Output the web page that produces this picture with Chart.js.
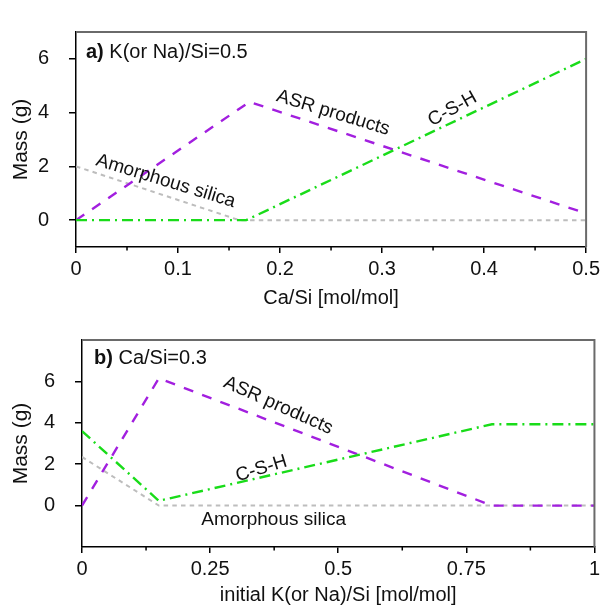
<!DOCTYPE html>
<html>
<head>
<meta charset="utf-8">
<script src="https://cdn.jsdelivr.net/npm/chart.js@4.4.1/dist/chart.umd.min.js"></script>
<style>
  html, body { margin: 0; padding: 0; background: #fff; }
  body { width: 604px; height: 608px; position: relative; overflow: hidden; }
  .box { position: absolute; left: 0; width: 604px; }
  #boxA { top: 0; height: 312px; }
  #boxB { top: 308px; height: 300px; }
</style>
</head>
<body>
<div class="box" id="boxA"><canvas id="chartA"></canvas></div>
<div class="box" id="boxB"><canvas id="chartB"></canvas></div>
<script>
// ---------- Panel a) K(or Na)/Si = 0.5 ----------
const caSiASR   = [0, 0.17, 0.5];
const massASR_a = [0, 4.4, 0.25];
const caSiCSH   = [0, 0.167, 0.5];
const massCSH_a = [0, 0, 6];
const caSiAm    = [0, 0.16, 0.5];
const massAm_a  = [2, 0, 0];
const xTicksA      = [0, 0.1, 0.2, 0.3, 0.4, 0.5];
const xTickLabelsA = ['0', '0.1', '0.2', '0.3', '0.4', '0.5'];
const xMinorA      = [0.05, 0.15, 0.25, 0.35, 0.45];

// ---------- Panel b) Ca/Si = 0.3 ----------
const kSiASR    = [0, 0.15, 0.8, 1];
const massASR_b = [0, 6.15, 0, 0];
const kSiCSH    = [0, 0.15, 0.8, 1];
const massCSH_b = [3.6, 0.23, 3.93, 3.93];
const kSiAm     = [0, 0.15, 1];
const massAm_b  = [2.35, 0, 0];
const xTicksB      = [0, 0.25, 0.5, 0.75, 1];
const xTickLabelsB = ['0', '0.25', '0.5', '0.75', '1'];
const xMinorB      = [0.125, 0.375, 0.625, 0.875];

const yTicks      = [0, 2, 4, 6];
const yTickLabels = ['0', '2', '4', '6'];

const seriesNames = ['C-S-H', 'ASR products', 'Amorphous silica'];

const FONT = "'Liberation Sans', Arial, sans-serif";
const COL_ASR = '#A21FDF';
const COL_CSH = '#19DC19';
const COL_AM  = '#BDBDBD';

function pts(xs, ys) { return xs.map((v, i) => ({ x: v, y: ys[i] })); }

function datasets(cx, cy, ax, ay, mx, my) {
  return [
    { label: seriesNames[0], data: pts(cx, cy), borderColor: COL_CSH, borderWidth: 2.4, borderDash: [11, 5, 2, 5] },
    { label: seriesNames[1], data: pts(ax, ay), borderColor: COL_ASR, borderWidth: 2.4, borderDash: [10, 9.5] },
    { label: seriesNames[2], data: pts(mx, my), borderColor: COL_AM,  borderWidth: 2,   borderDash: [4.5, 4.2] }
  ].map(d => Object.assign(d, { pointRadius: 0, fill: false, tension: 0, borderCapStyle: 'butt' }));
}

const decor = {
  id: 'decor',
  afterDatasetsDraw(chart, args, o) {
    const { ctx, chartArea: a, scales: { x, y } } = chart;
    ctx.save();
    // top & right frame
    ctx.strokeStyle = '#6a6a6a';
    ctx.lineWidth = 2;
    ctx.beginPath();
    ctx.moveTo(a.left, a.top);
    ctx.lineTo(a.right, a.top);
    ctx.lineTo(a.right, a.bottom);
    ctx.stroke();
    // minor x ticks
    ctx.strokeStyle = '#000';
    ctx.lineWidth = 1.5;
    ctx.beginPath();
    for (const v of o.minor) {
      const px = x.getPixelForValue(v);
      ctx.moveTo(px, a.bottom);
      ctx.lineTo(px, a.bottom + 3.5);
    }
    ctx.stroke();
    // curve labels
    ctx.fillStyle = '#111';
    ctx.textAlign = 'center';
    ctx.textBaseline = 'middle';
    ctx.font = '19px ' + FONT;
    for (const t of o.labels) {
      ctx.save();
      ctx.translate(x.getPixelForValue(t.x), y.getPixelForValue(t.y));
      ctx.rotate(t.angle * Math.PI / 180);
      ctx.fillText(t.text, 0, 0);
      ctx.restore();
    }
    // panel label
    const lx = a.left + o.panel.dx, ly = a.top + o.panel.dy;
    ctx.textAlign = 'left';
    ctx.font = 'bold 20px ' + FONT;
    ctx.fillText(o.panel.bold, lx, ly);
    const w = ctx.measureText(o.panel.bold + ' ').width;
    ctx.font = '20px ' + FONT;
    ctx.fillText(o.panel.rest, lx + w, ly);
    ctx.restore();
  }
};

function makeChart(id, cfg) {
  return new Chart(document.getElementById(id), {
    type: 'line',
    data: { datasets: cfg.datasets },
    options: {
      responsive: true,
      maintainAspectRatio: false,
      animation: false,
      events: [],
      layout: { padding: cfg.padding },
      plugins: {
        legend: { display: false },
        tooltip: { enabled: false },
        decor: cfg.decor
      },
      scales: {
        x: {
          type: 'linear',
          min: cfg.xMin, max: cfg.xMax,
          afterBuildTicks: s => { s.ticks = cfg.xTicks.map(v => ({ value: v })); },
          afterFit: s => { s.height = cfg.xHeight; },
          ticks: {
            autoSkip: false, maxRotation: 0, padding: 4,
            color: '#111', font: { family: FONT, size: 20 },
            callback: (v, i) => cfg.xTickLabels[i]
          },
          grid: { drawOnChartArea: false, drawTicks: true, tickLength: 6, color: '#000', lineWidth: 1.5 },
          border: { display: true, color: '#000', width: 1.5 },
          title: { display: true, text: cfg.xTitle, color: '#111', font: { family: FONT, size: 20 }, padding: { top: 0, bottom: cfg.xTitlePad } }
        },
        y: {
          type: 'linear',
          min: cfg.yMin, max: cfg.yMax,
          afterBuildTicks: s => { s.ticks = yTicks.map(v => ({ value: v })); },
          afterFit: s => { s.width = cfg.yWidth; },
          ticks: {
            autoSkip: false, padding: 20,
            color: '#111', font: { family: FONT, size: 20 },
            callback: (v, i) => yTickLabels[i]
          },
          grid: { drawOnChartArea: false, drawTicks: true, tickLength: 7, color: '#000', lineWidth: 1.5 },
          border: { display: true, color: '#000', width: 1.5 },
          title: { display: true, text: 'Mass (g)', color: '#111', font: { family: FONT, size: 21 }, padding: { top: 9, bottom: 0 } }
        }
      }
    },
    plugins: [decor]
  });
}

makeChart('chartA', {
  datasets: datasets(caSiCSH, massCSH_a, caSiASR, massASR_a, caSiAm, massAm_a),
  padding: { left: 0, right: 14, top: 15, bottom: 0 },
  xMin: 0, xMax: 0.5, yMin: -1, yMax: 7,
  xTicks: xTicksA, xTickLabels: xTickLabelsA,
  xHeight: 65, yWidth: 76, xTitle: 'Ca/Si [mol/mol]', xTitlePad: 2,
  decor: {
    minor: xMinorA,
    panel: { dx: 10, dy: 20, bold: 'a)', rest: 'K(or Na)/Si=0.5' },
    labels: [
      { text: 'Amorphous silica', x: 0.088, y: 1.45, angle: 17 },
      { text: 'ASR products', x: 0.252, y: 3.99, angle: 17 },
      { text: 'C-S-H', x: 0.369, y: 4.13, angle: -29 }
    ]
  }
});

makeChart('chartB', {
  datasets: datasets(kSiCSH, massCSH_b, kSiASR, massASR_b, kSiAm, massAm_b),
  padding: { left: 0, right: 8, top: 8, bottom: 0 },
  xMin: 0, xMax: 1, yMin: -2, yMax: 8,
  xTicks: xTicksB, xTickLabels: xTickLabelsB,
  xHeight: 61, yWidth: 82, xTitle: 'initial K(or Na)/Si [mol/mol]', xTitlePad: 1,
  decor: {
    minor: xMinorB,
    panel: { dx: 12, dy: 18, bold: 'b)', rest: 'Ca/Si=0.3' },
    labels: [
      { text: 'ASR products', x: 0.383, y: 4.83, angle: 24 },
      { text: 'C-S-H', x: 0.35, y: 1.78, angle: -17 },
      { text: 'Amorphous silica', x: 0.374, y: -0.68, angle: 0 }
    ]
  }
});
</script>
</body>
</html>
